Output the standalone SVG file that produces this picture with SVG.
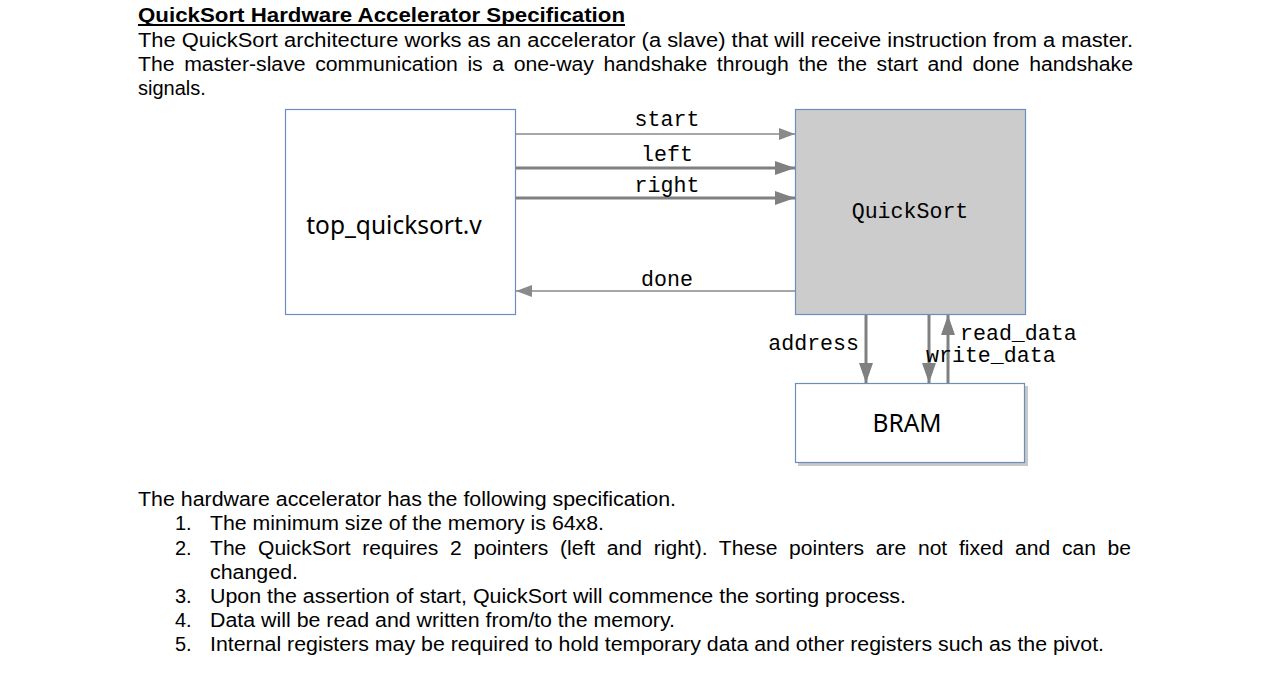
<svg xmlns="http://www.w3.org/2000/svg" width="1284" height="674" viewBox="0 0 1284 674">
<style>
.body{font-family:"Liberation Sans",Arial,sans-serif;font-size:20px;fill:#000}
.title{font-family:"Liberation Sans",Arial,sans-serif;font-size:21px;font-weight:bold;fill:#000}
.mono{font-family:"Liberation Mono","DejaVu Sans Mono",monospace;font-size:21.6px;fill:#000}
.box{stroke:#6c8ebf;stroke-width:1.2}
.lbl{font-family:"Noto Sans","Open Sans",sans-serif;font-size:24.5px;fill:#000}
.thin{stroke:#8a8a8a;stroke-width:1.3;fill:none}
.thick{stroke:#808080;stroke-width:3;fill:none}
</style>
<defs>
<marker id="ahs" markerWidth="16" markerHeight="12" refX="16" refY="6" orient="auto" markerUnits="userSpaceOnUse"><path d="M0,0 L16,6 L0,12 Z" fill="#8a8a8a"/></marker>
<marker id="ahl" markerWidth="20" markerHeight="14" refX="20" refY="7" orient="auto" markerUnits="userSpaceOnUse"><path d="M0,0 L20,7 L0,14 Z" fill="#808080"/></marker>
</defs>
<rect width="1284" height="674" fill="#fff"/>
<g id="header">
<text class="title" x="138" y="22" textLength="487" lengthAdjust="spacingAndGlyphs">QuickSort Hardware Accelerator Specification</text>
<line x1="138" y1="25" x2="625" y2="25" stroke="#000" stroke-width="2"/>
<text class="body" x="138" y="47" textLength="995" lengthAdjust="spacingAndGlyphs">The QuickSort architecture works as an accelerator (a slave) that will receive instruction from a master.</text>
<text class="body" x="138" y="71" word-spacing="3.5" textLength="995" lengthAdjust="spacingAndGlyphs">The master-slave communication is a one-way handshake through the the start and done handshake</text>
<text class="body" x="138" y="95">signals.</text>
</g>
<g id="top_quicksort">
<rect class="box" x="285.5" y="109.5" width="230" height="205" fill="#fff"/>
<text class="lbl" x="394" y="234" text-anchor="middle">top_quicksort.v</text>
</g>
<g id="quicksort">
<rect class="box" x="795.5" y="109.5" width="230" height="205" fill="#cccccc"/>
<text class="mono" x="910" y="218" text-anchor="middle">QuickSort</text>
</g>
<g id="bram">
<rect x="798" y="386" width="230" height="80" fill="#c8c8c8"/>
<rect class="box" x="795.5" y="383.5" width="229" height="79" fill="#fff"/>
<text class="lbl" x="907" y="432" text-anchor="middle">BRAM</text>
</g>
<g id="connectors">
<line class="thin" x1="516" y1="134" x2="795" y2="134" marker-end="url(#ahs)"/>
<line class="thick" x1="516" y1="168" x2="795" y2="168" marker-end="url(#ahl)"/>
<line class="thick" x1="516" y1="198" x2="795" y2="198" marker-end="url(#ahl)"/>
<line class="thin" x1="795" y1="291" x2="516" y2="291" marker-end="url(#ahs)"/>
<line class="thick" x1="866" y1="315" x2="866" y2="383" marker-end="url(#ahl)"/>
<line class="thick" x1="929" y1="315" x2="929" y2="383" marker-end="url(#ahl)"/>
<line class="thick" x1="948" y1="383" x2="948" y2="315" marker-end="url(#ahl)"/>
<text class="mono" x="667" y="126" text-anchor="middle">start</text>
<text class="mono" x="667" y="161" text-anchor="middle">left</text>
<text class="mono" x="667" y="192" text-anchor="middle">right</text>
<text class="mono" x="667" y="286" text-anchor="middle">done</text>
<text class="mono" x="859" y="350" text-anchor="end">address</text>
<text class="mono" x="960" y="340">read_data</text>
<text class="mono" x="926" y="362">write_data</text>
</g>
<g id="spec">
<text class="body" x="138" y="506" textLength="538" lengthAdjust="spacingAndGlyphs">The hardware accelerator has the following specification.</text>
<text class="body" x="175" y="530">1.</text>
<text class="body" x="210" y="530" textLength="394" lengthAdjust="spacingAndGlyphs">The minimum size of the memory is 64x8.</text>
<text class="body" x="175" y="555">2.</text>
<text class="body" x="210" y="555" word-spacing="5.5" textLength="921" lengthAdjust="spacingAndGlyphs">The QuickSort requires 2 pointers (left and right). These pointers are not fixed and can be</text>
<text class="body" x="210" y="579" textLength="88" lengthAdjust="spacingAndGlyphs">changed.</text>
<text class="body" x="175" y="603">3.</text>
<text class="body" x="210" y="603" textLength="696" lengthAdjust="spacingAndGlyphs">Upon the assertion of start, QuickSort will commence the sorting process.</text>
<text class="body" x="175" y="627">4.</text>
<text class="body" x="210" y="627" textLength="465" lengthAdjust="spacingAndGlyphs">Data will be read and written from/to the memory.</text>
<text class="body" x="175" y="651">5.</text>
<text class="body" x="210" y="651" textLength="894" lengthAdjust="spacingAndGlyphs">Internal registers may be required to hold temporary data and other registers such as the pivot.</text>
</g>
</svg>
